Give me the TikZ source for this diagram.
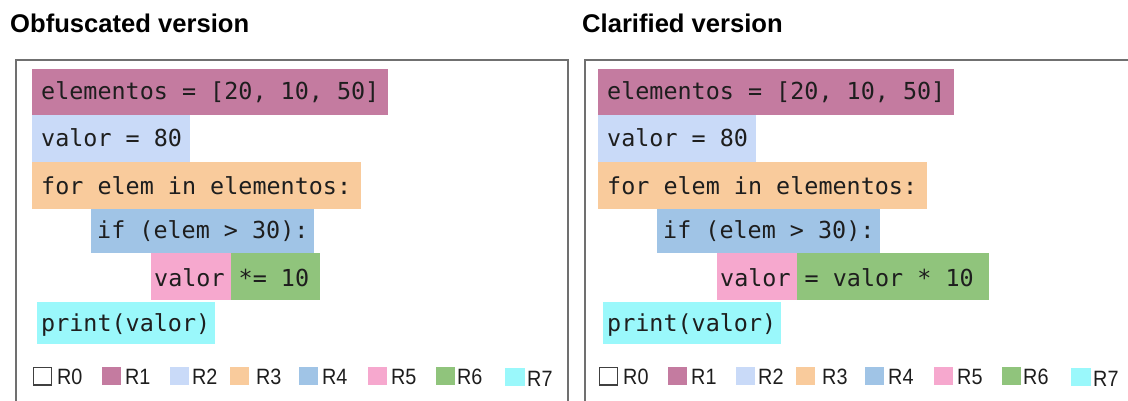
\documentclass[tikz,border=0pt]{standalone}
\usepackage{fontspec}
\setmainfont{Liberation Sans}
\newfontfamily\codefont{DejaVu Sans Mono}

\definecolor{r1}{HTML}{C47BA0}
\definecolor{r2}{HTML}{C9DAF8}
\definecolor{r3}{HTML}{F9CB9C}
\definecolor{r4}{HTML}{A0C4E6}
\definecolor{r5}{HTML}{F6A8CE}
\definecolor{r6}{HTML}{90C47C}
\definecolor{r7}{HTML}{9AF8FB}
\definecolor{framegray}{HTML}{707070}
\definecolor{ink}{HTML}{1E1E1E}

\tikzset{
  frameline/.style={draw=framegray, line width=1.5pt},
  code/.style={font=\codefont\fontsize{23.4}{28}\selectfont, text=ink,
               inner sep=0pt, anchor=base west},
  legendtext/.style={font=\fontsize{19.8}{23}\selectfont, text=ink,
               inner sep=0pt, anchor=base west},
  title/.style={font=\bfseries\fontsize{25.6}{30}\selectfont, text=black,
               inner sep=0pt, anchor=base west},
  emptyswatch/.style={draw=ink!85, line width=1.2pt, fill=white},
}

% legend labels are set slightly tall
\newcommand\tallcap[1]{\scalebox{1}[1.12]{#1}}

% One code panel: #1 = the multiplication statement, #2 = right end of its R6 band
\newcommand\drawpanel[2]{%
  % region highlights
  \fill[r1] (32,69)    rectangle (388,115.5);
  \fill[r2] (32,115.5) rectangle (190,162);
  \fill[r3] (32,162)   rectangle (361,209);
  \fill[r4] (91,209)   rectangle (314,253);
  \fill[r5] (151,253)  rectangle (231,300);
  \fill[r6] (231,253)  rectangle (#2,300);
  \fill[r7] (37,302)   rectangle (215,344);
  % source lines
  \node[code] (l1) at (41,100) {elementos = [20, 10, 50]};
  \node[code] (l2) at (41,147) {valor = 80};
  \node[code] (l3) at (41,194) {for elem in elementos:};
  \node[code] (l4) at (97,238) {if (elem > 30):};
  \node[code] (l5) at (154,286) {#1};
  \node[code] (l6) at (41,331) {print(valor)};
  % legend
  \draw[emptyswatch] (33.5,367.5) rectangle (51.5,385);
  \node[legendtext] (R0) at (57,384) {\tallcap{R0}};
  \foreach \lab/\col/\bx/\tx in {R1/r1/102/125, R2/r2/170/192, R3/r3/230/256,
                                 R4/r4/299/322, R5/r5/368/391, R6/r6/436/457}{
    \fill[\col] (\bx,367) rectangle ++(18.5,18);
    \node[legendtext] (\lab) at (\tx,384) {\tallcap{\lab}};
  }
  \fill[r7] (505,368) rectangle ++(19.5,18);
  \node[legendtext] (R7) at (527,386) {\tallcap{R7}};
}

\begin{document}
\begin{tikzpicture}[x=1pt,y=-1pt]
  \useasboundingbox (0,0) rectangle (1128,401);

  % headings
  \node[title] (tobf) at (10,33)  {Obfuscated version};
  \node[title] (tcla) at (582,33) {Clarified version};

  % panel frames (open at the bottom and on the far right)
  \draw[frameline] (16,401) -- (16,60) -- (568,60) -- (568,401);
  \draw[frameline] (585,401) -- (585,60) -- (1128,60);

  \begin{scope}[name prefix=obf-]
    \drawpanel{valor *= 10}{320}
  \end{scope}
  \begin{scope}[xshift=566pt, name prefix=cla-]
    \drawpanel{valor = valor * 10}{423}
  \end{scope}
\end{tikzpicture}
\end{document}
